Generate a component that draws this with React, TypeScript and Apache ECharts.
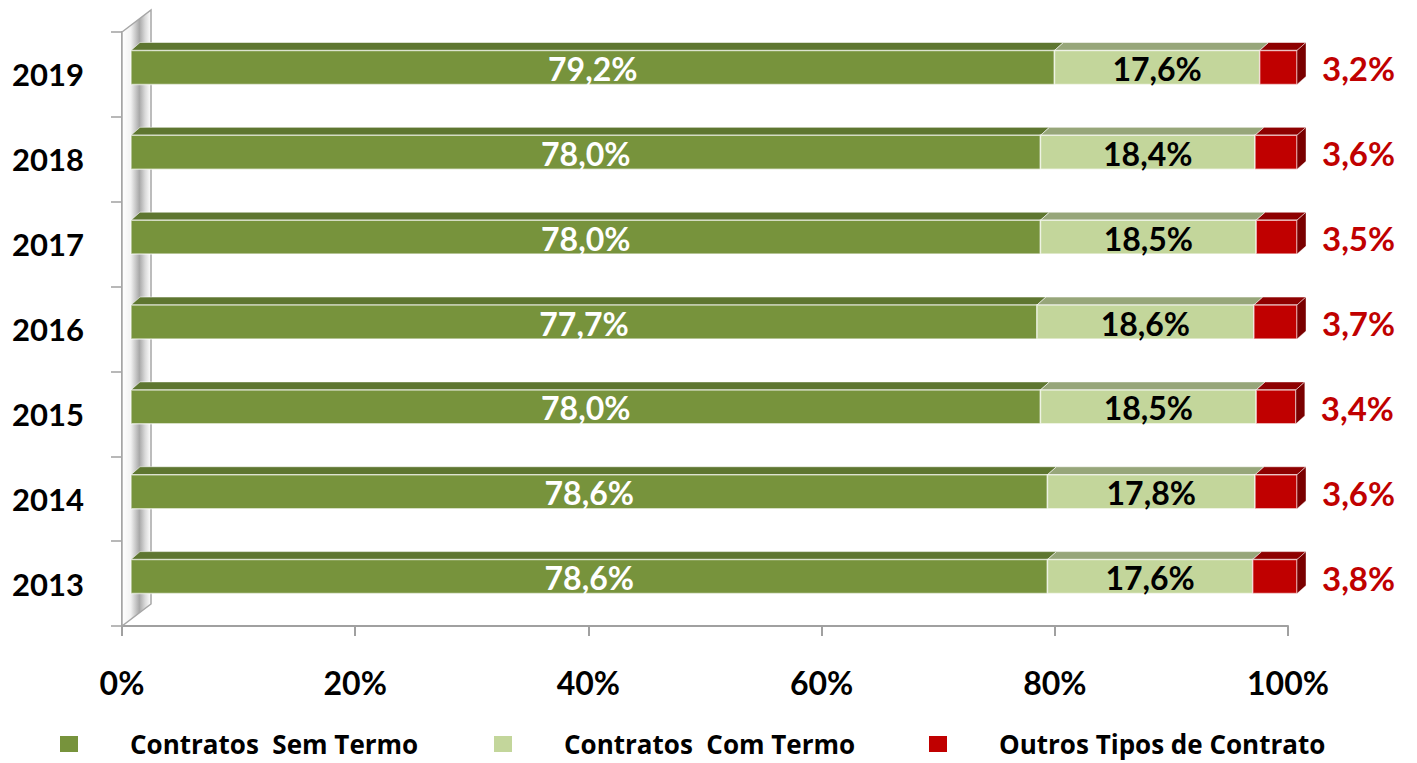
import React, { useEffect, useRef } from "react";
import * as echarts from "echarts";

const years = ["2013", "2014", "2015", "2016", "2017", "2018", "2019"];
const semTermo = [78.6, 78.6, 78.0, 77.7, 78.0, 78.0, 79.2];
const comTermo = [17.6, 17.8, 18.5, 18.6, 18.5, 18.4, 17.6];
const outros = [3.8, 3.6, 3.4, 3.7, 3.5, 3.6, 3.2];
const seriesNames = ["Contratos  Sem Termo", "Contratos  Com Termo", "Outros Tipos de Contrato"];
const xTicks = [0, 20, 40, 60, 80, 100];

const FONT = "Lato, 'Open Sans', sans-serif";
const LEGEND_FONT = "'Open Sans', Lato, sans-serif";
const DX = 9;
const DY = -8;
const FRONT_SHIFT_Y = -7;

const fmt = (v: number) => v.toFixed(1).replace(".", ",") + "%";

type Style = { front: string; top: string; side: string; label: string; outside: boolean };

const styles: Style[] = [
  { front: "#77933C", top: "#5E7630", side: "#4F6428", label: "#FFFFFF", outside: false },
  { front: "#C3D69B", top: "#97A67A", side: "#8A9A6C", label: "#000000", outside: false },
  { front: "#C00000", top: "#8E0000", side: "#7A0000", label: "#C00000", outside: true },
];

function buildData(idx: number) {
  const vals = [semTermo, comTermo, outros];
  return years.map((_, c) => {
    let start = 0;
    for (let k = 0; k < idx; k++) start += vals[k][c];
    return [start, start + vals[idx][c], c, vals[idx][c]];
  });
}

function makeRender(st: Style, last: boolean) {
  return (params: any, api: any) => {
    const s = api.value(0);
    const e = api.value(1);
    const c = api.value(2);
    const v = api.value(3);
    const p0 = api.coord([s, c]);
    const p1 = api.coord([e, c]);
    const band = api.size([0, 1])[1];
    const h = band * 0.4;
    const x = p0[0] + DX;
    const w = p1[0] - p0[0];
    const y = p0[1] + FRONT_SHIFT_Y - h / 2;
    const children: any[] = [
      {
        type: "polygon",
        shape: { points: [[x, y], [x + DX, y + DY], [x + w + DX, y + DY], [x + w, y]] },
        style: { fill: st.top, stroke: "rgba(255,255,255,0.55)", lineWidth: 1 },
      },
      {
        type: "rect",
        shape: { x, y, width: w, height: h },
        style: { fill: st.front, stroke: "rgba(255,255,255,0.6)", lineWidth: 1.5 },
      },
    ];
    if (last) {
      children.push({
        type: "polygon",
        shape: { points: [[x + w, y], [x + w + DX, y + DY], [x + w + DX, y + h + DY], [x + w, y + h]] },
        style: { fill: st.side, stroke: "rgba(255,255,255,0.4)", lineWidth: 1 },
      });
    }
    children.push({
      type: "text",
      style: {
        text: fmt(v),
        x: st.outside ? x + w + DX + 16 : x + w / 2,
        y: y + h / 2 + 1,
        align: st.outside ? "left" : "center",
        verticalAlign: "middle",
        fontSize: st.outside ? 33 : 32,
        fontWeight: "bold",
        fontFamily: FONT,
        fill: st.label,
      },
    });
    return { type: "group", children };
  };
}

function wallRender(params: any, api: any) {
  const cs = params.coordSys;
  const gx = cs.x;
  const gy = cs.y;
  const gh = cs.height;
  const wd = 29;
  const wh = -22;
  return {
    type: "polygon",
    shape: {
      points: [[gx, gy + gh], [gx, gy], [gx + wd, gy + wh], [gx + wd, gy + gh + wh]],
    },
    style: {
      fill: new echarts.graphic.LinearGradient(0, 0, 1, 0, [
        { offset: 0, color: "#FFFFFF" },
        { offset: 0.3, color: "#F2F2F2" },
        { offset: 0.6, color: "#A8A8A8" },
        { offset: 0.8, color: "#DADADA" },
        { offset: 1, color: "#FFFFFF" },
      ]),
      stroke: "#A6A6A6",
      lineWidth: 1.5,
    },
  };
}

export default function App() {
  const ref = useRef<HTMLDivElement>(null);
  useEffect(() => {
    if (!ref.current) return;
    const chart = echarts.init(ref.current, null, { renderer: "svg" });
    const legendBase = {
      orient: "horizontal",
      top: 731,
      itemWidth: 18,
      itemHeight: 16,
      icon: "rect",
      padding: 0,
      textStyle: {
        fontSize: 26,
        lineHeight: 26,
        fontWeight: "bold",
        fontFamily: LEGEND_FONT,
        color: "#000000",
        padding: [0, 0, 0, 47],
      },
    };
    chart.setOption({
      animation: false,
      backgroundColor: "#FFFFFF",
      grid: { left: 122, right: 129, top: 32, bottom: 137, containLabel: false },
      legend: [
        { ...legendBase, left: 60, data: [seriesNames[0]] },
        { ...legendBase, left: 494, data: [seriesNames[1]] },
        { ...legendBase, left: 929, data: [seriesNames[2]] },
      ],
      xAxis: {
        type: "value",
        min: 0,
        max: 100,
        interval: 20,
        axisLine: { show: true, lineStyle: { color: "#A0A0A0", width: 2 } },
        axisTick: { show: true, length: 10, lineStyle: { color: "#A0A0A0", width: 2 } },
        splitLine: { show: false },
        axisLabel: {
          formatter: (v: number) => (xTicks.includes(v) ? v + "%" : ""),
          margin: 40,
          fontSize: 32,
          fontWeight: "bold",
          fontFamily: FONT,
          color: "#000000",
        },
      },
      yAxis: {
        type: "category",
        data: years,
        axisLine: { show: true, lineStyle: { color: "#A0A0A0", width: 2 } },
        axisTick: { show: true, length: 11, lineStyle: { color: "#A0A0A0", width: 1.5 } },
        axisLabel: {
          margin: 38,
          fontSize: 31,
          fontWeight: "bold",
          fontFamily: FONT,
          color: "#000000",
        },
      },
      series: [
        {
          type: "custom",
          name: "wall",
          renderItem: wallRender,
          data: [[0, 0]],
          encode: { x: 0, y: 1 },
          silent: true,
          z: 1,
        },
        ...styles.map((st, i) => ({
          type: "custom",
          name: seriesNames[i],
          renderItem: makeRender(st, i === styles.length - 1),
          data: buildData(i),
          encode: { x: [0, 1], y: 2 },
          itemStyle: { color: st.front },
          z: 2 + i,
        })),
      ],
    });
    return () => chart.dispose();
  }, []);
  return (
    <div
      ref={ref}
      style={{ position: "fixed", left: 0, top: 0, width: 1417, height: 763, background: "#fff" }}
    />
  );
}
